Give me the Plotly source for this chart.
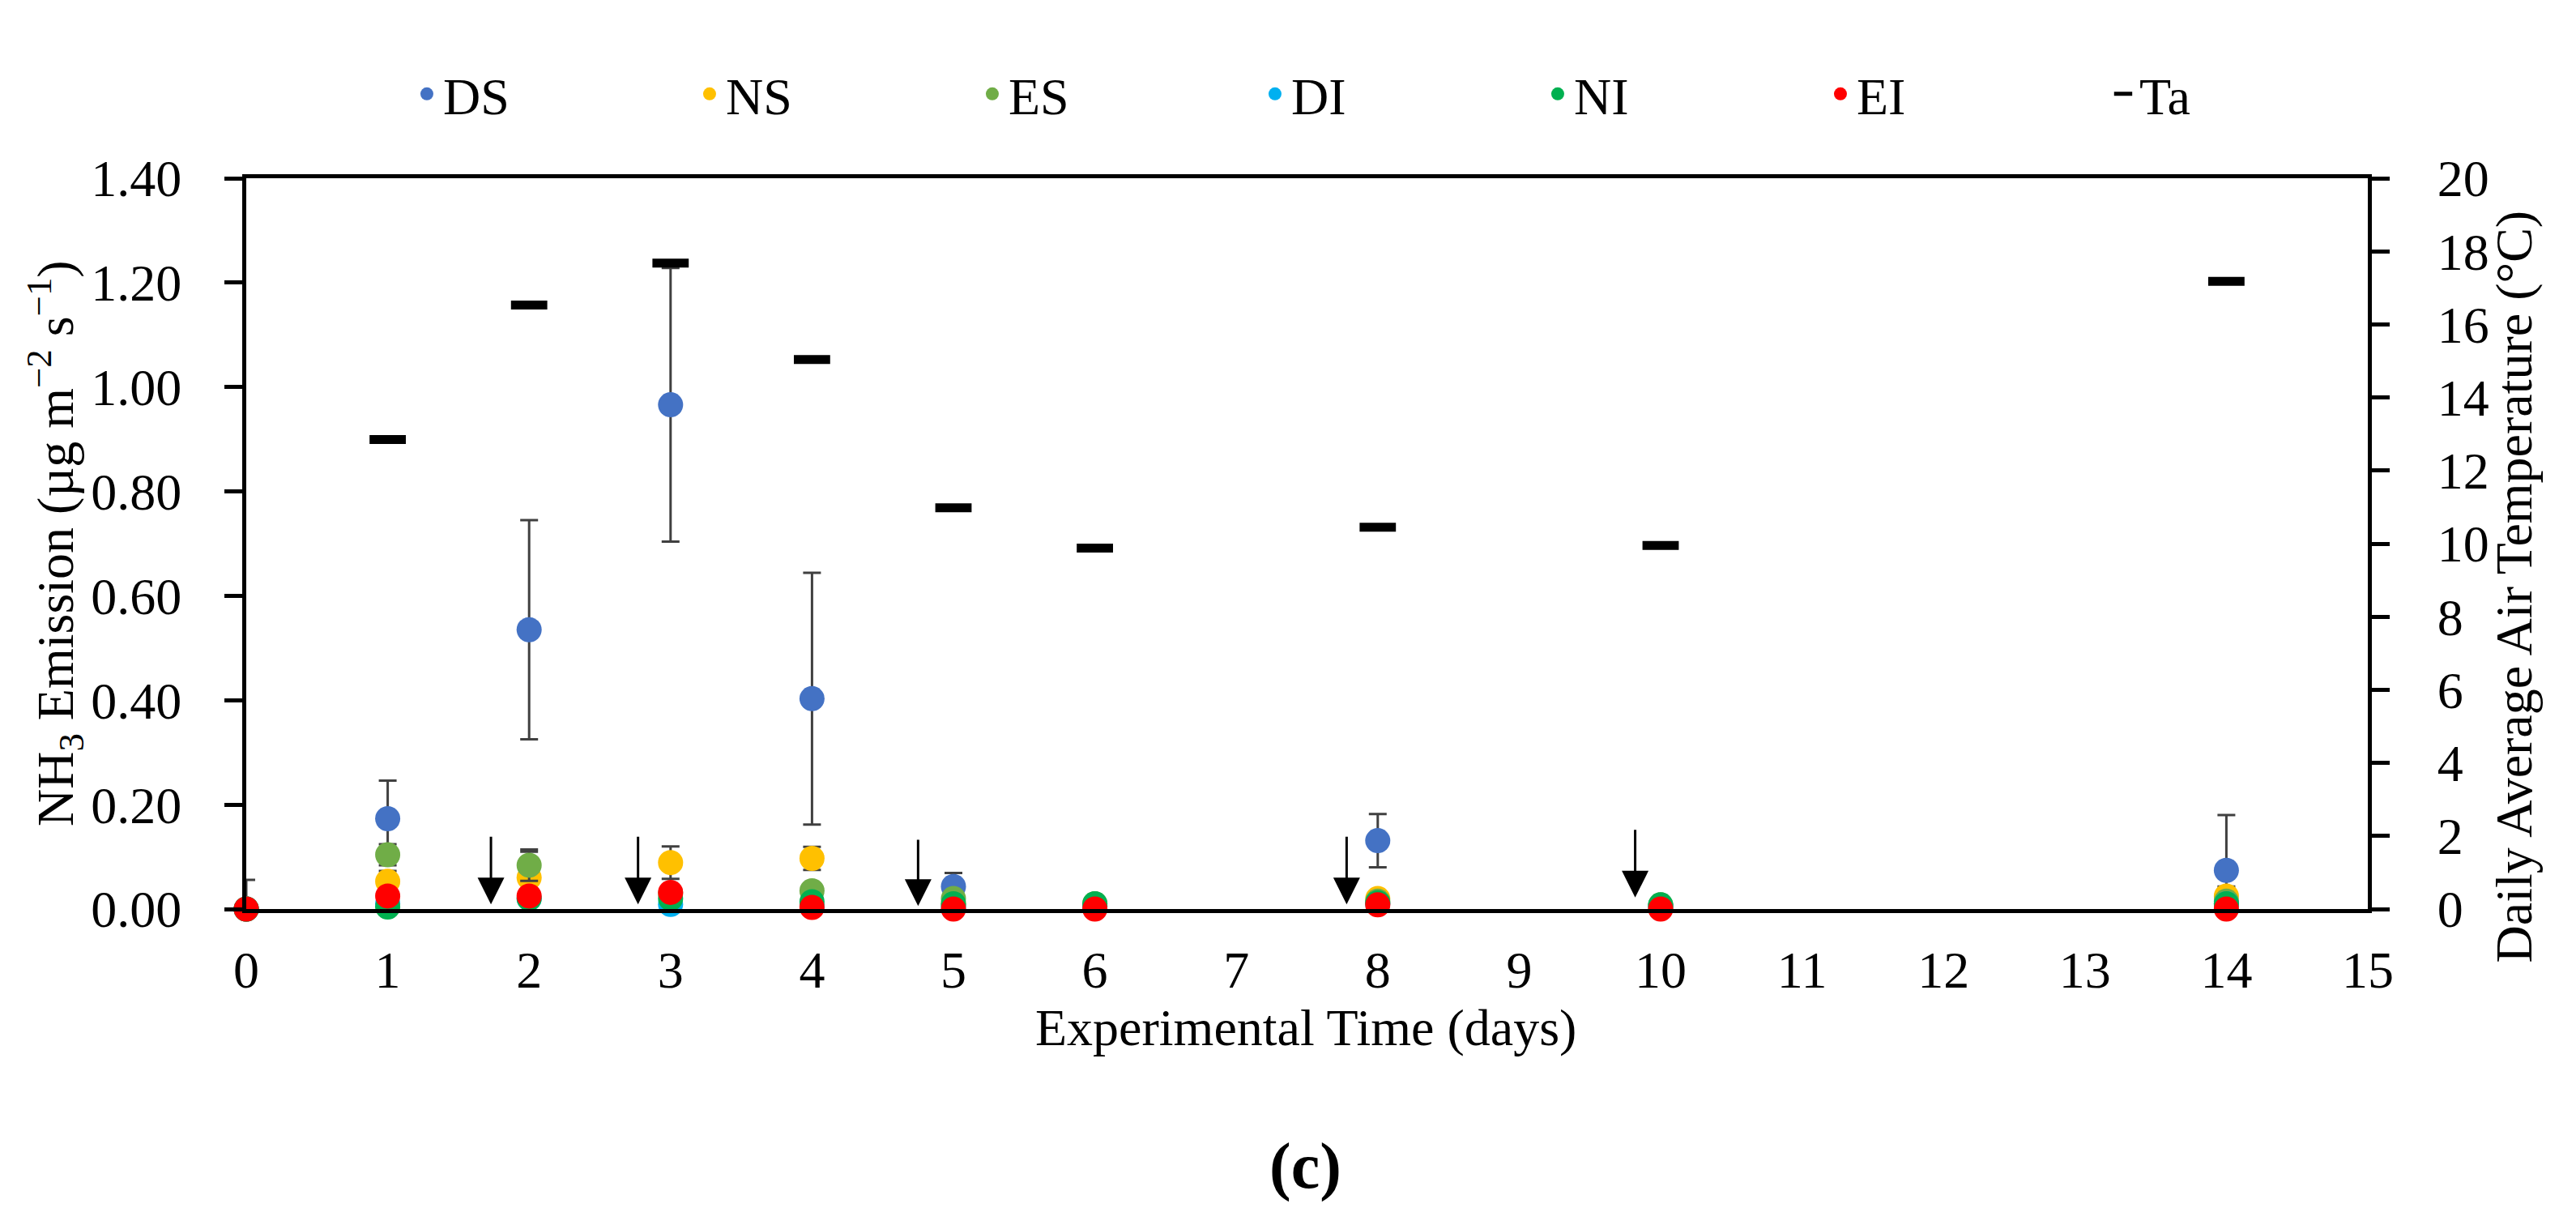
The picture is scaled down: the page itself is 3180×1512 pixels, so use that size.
import plotly.graph_objects as go

# ---------------- data ----------------
days = [0, 1, 2, 3, 4, 5, 6, 8, 10, 14]

DS = [0.000, 0.173, 0.535, 0.966, 0.403, 0.043, 0.005, 0.131, 0.005, 0.074]
DS_err = [0.056, 0.073, 0.210, 0.262, 0.241, 0.026, None, 0.051, None, 0.106]
NS = [0.000, 0.053, 0.060, 0.089, 0.097, 0.010, 0.005, 0.020, 0.005, 0.025]
NS_err = [None, 0.020, 0.050, 0.031, 0.022, 0.008, None, 0.010, None, 0.018]
ES = [0.000, 0.104, 0.084, 0.030, 0.035, 0.020, 0.010, 0.015, 0.008, 0.015]
ES_err = [None, 0.020, 0.030, 0.010, 0.010, 0.005, 0.003, 0.005, 0.002, 0.010]
DI = [0.000, 0.010, 0.020, 0.009, 0.005, 0.005, 0.005, 0.010, 0.005, 0.010]
NI = [0.000, 0.004, 0.020, 0.020, 0.014, 0.010, 0.010, 0.012, 0.008, 0.010]
EI = [0.000, 0.025, 0.025, 0.032, 0.003, 0.000, 0.000, 0.008, 0.000, 0.000]
Ta = [None, 12.85, 16.53, 17.68, 15.04, 10.98, 9.88, 10.45, 9.95, 17.18]

# event arrows (day, top of shaft, tip) in NH3 units
arrow_days = [1.73, 2.77, 4.75, 7.78, 9.82]
arrow_top = [0.141, 0.141, 0.135, 0.141, 0.154]
arrow_tip = [0.009, 0.009, 0.006, 0.009, 0.022]

x_ticks = list(range(0, 16))
y_ticks = [0.0, 0.2, 0.4, 0.6, 0.8, 1.0, 1.2, 1.4]
y2_ticks = list(range(0, 21, 2))

series = [
    ("DS", DS, DS_err, "#4472C4"),
    ("NS", NS, NS_err, "#FFC000"),
    ("ES", ES, ES_err, "#70AD47"),
    ("DI", DI, None, "#00B0F0"),
    ("NI", NI, None, "#00B050"),
    ("EI", EI, None, "#FF0000"),
]

FONT = "Liberation Serif"
FS = 64

fig = go.Figure()
for name, vals, err, col in series:
    kw = {}
    if err is not None:
        kw["error_y"] = dict(type="data", array=err, symmetric=True, visible=True,
                             color="#404040", thickness=3, width=11)
    fig.add_trace(go.Scatter(
        x=days, y=vals, name=name, mode="markers",
        marker=dict(color=col, size=31, line=dict(width=0)),
        cliponaxis=False, **kw))

fig.add_trace(go.Scatter(
    x=days, y=Ta, name="Ta", mode="markers", yaxis="y2",
    marker=dict(symbol="line-ew", size=32, color="black",
                line=dict(color="black", width=11)),
    cliponaxis=False))

annotations = []
for d, top, tip in zip(arrow_days, arrow_top, arrow_tip):
    annotations.append(dict(
        x=d, y=tip, ax=d, ay=top, xref="x", yref="y", axref="x", ayref="y",
        text="", showarrow=True, arrowhead=2, arrowsize=2.2, arrowwidth=3,
        arrowcolor="black"))

# axis titles and panel label
annotations += [
    dict(text="NH<sub>3</sub> Emission (µg m<sup>−2</sup> s<sup>−1</sup>)",
         xref="paper", yref="paper", x=-0.0901, y=0.5, textangle=-90,
         showarrow=False, xanchor="center", yanchor="middle",
         font=dict(family=FONT, size=FS, color="black")),
    dict(text="Daily Average Air Temperature (°C)",
         xref="paper", yref="paper", x=1.0689, y=0.4412, textangle=-90,
         showarrow=False, xanchor="center", yanchor="middle",
         font=dict(family=FONT, size=FS, color="black")),
    dict(text="Experimental Time (days)",
         xref="paper", yref="paper", x=0.4994, y=-0.162,
         showarrow=False, xanchor="center", yanchor="middle",
         font=dict(family=FONT, size=FS, color="black")),
    dict(text="<b>(c)</b>",
         xref="paper", yref="paper", x=0.4994, y=-0.352,
         showarrow=False, xanchor="center", yanchor="middle",
         font=dict(family=FONT, size=80, color="black")),
]

fig.update_layout(
    width=3180, height=1512,
    margin=dict(l=296, r=265, t=212, b=398),
    paper_bgcolor="white", plot_bgcolor="white",
    font=dict(family=FONT, size=FS, color="black"),
    showlegend=True,
    legend=dict(orientation="h", x=0.0775, xanchor="left", y=1.115, yanchor="middle",
                entrywidth=304, entrywidthmode="pixels",
                font=dict(family=FONT, size=FS, color="black"),
                bgcolor="rgba(0,0,0,0)", traceorder="normal"),
    xaxis=dict(range=[0, 15], tickvals=x_ticks, ticktext=[str(v) for v in x_ticks],
               showline=True, linecolor="black", linewidth=5, mirror=True,
               ticks="", showgrid=False, zeroline=False, ticklabelstandoff=15,
               tickfont=dict(family=FONT, size=FS)),
    yaxis=dict(range=[0, 1.4], tickvals=y_ticks, tickformat=".2f",
               showline=True, linecolor="black", linewidth=5,
               ticks="outside", ticklen=22, tickwidth=5, tickcolor="black",
               showgrid=False, zeroline=False, ticklabelstandoff=40,
               tickfont=dict(family=FONT, size=FS)),
    yaxis2=dict(range=[0, 20], tickvals=y2_ticks, overlaying="y", side="right",
                showline=True, linecolor="black", linewidth=5,
                ticks="outside", ticklen=22, tickwidth=5, tickcolor="black",
                showgrid=False, zeroline=False, ticklabelstandoff=46,
                tickfont=dict(family=FONT, size=FS)),
    annotations=annotations,
)

fig.write_html("out.html")
